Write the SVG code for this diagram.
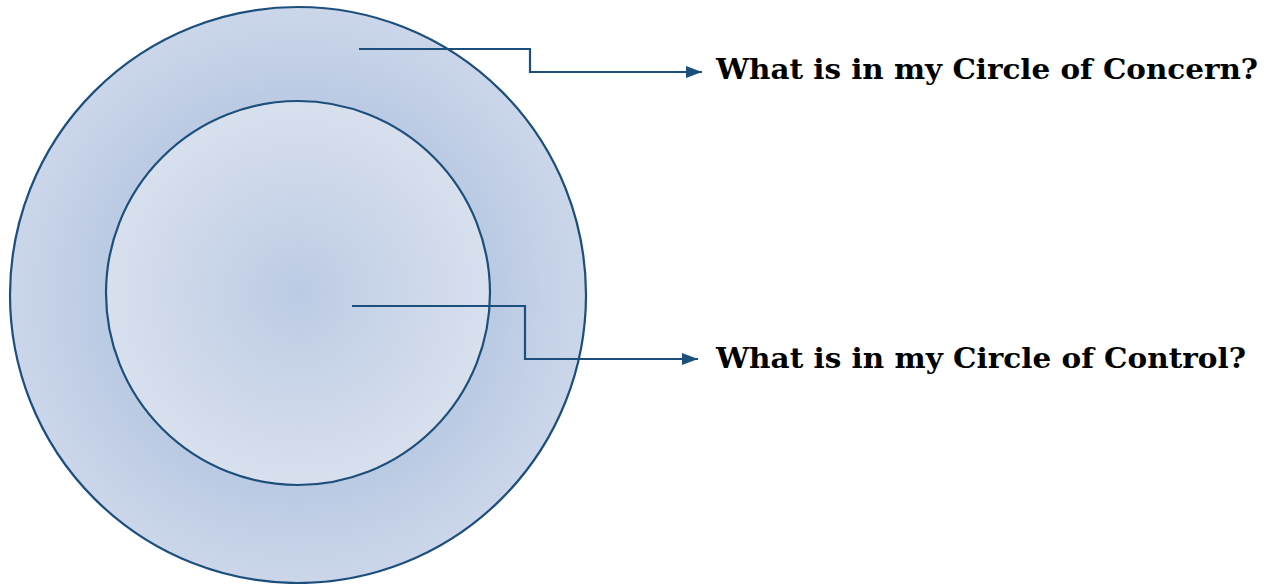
<svg xmlns="http://www.w3.org/2000/svg" width="1268" height="584" viewBox="0 0 1268 584">
<style>
.ring{stroke:#1c4f7c;stroke-width:2.2}
.conn{fill:none;stroke:#1c4f7c;stroke-width:2.2}
.lbl{font-family:"DejaVu Serif","Liberation Serif",serif;font-weight:bold;font-size:28px;fill:#000}
</style>
<defs>
<radialGradient id="gOuter" cx="0.5" cy="0.5" r="0.5">
<stop offset="0" stop-color="#b4c5e1"/>
<stop offset="0.7" stop-color="#bccbe4"/>
<stop offset="1" stop-color="#cbd6ea"/>
</radialGradient>
<radialGradient id="gInner" cx="0.5" cy="0.5" r="0.5">
<stop offset="0" stop-color="#bccbe4"/>
<stop offset="1" stop-color="#d8e0ee"/>
</radialGradient>
<marker id="arr" markerWidth="16" markerHeight="12" refX="16" refY="6" orient="auto" markerUnits="userSpaceOnUse" viewBox="0 0 16 12">
<path d="M0,0 L16,6 L0,12 z" fill="#1c4f7c"/>
</marker>
</defs>
<g id="concern">
<circle class="ring" cx="298" cy="295" r="288" fill="url(#gOuter)"/>
</g>
<g id="control">
<circle class="ring" cx="298" cy="293" r="192" fill="url(#gInner)"/>
</g>
<g id="connectors">
<path class="conn" d="M359,49 H530 V72 H702" marker-end="url(#arr)"/>
<path class="conn" d="M352,306 H525 V359 H698" marker-end="url(#arr)"/>
</g>
<g id="label-concern">
<text class="lbl" x="716" y="79" textLength="542" lengthAdjust="spacingAndGlyphs">What is in my Circle of Concern?</text>
</g>
<g id="label-control">
<text class="lbl" x="716" y="368" textLength="530" lengthAdjust="spacingAndGlyphs">What is in my Circle of Control?</text>
</g>
</svg>
